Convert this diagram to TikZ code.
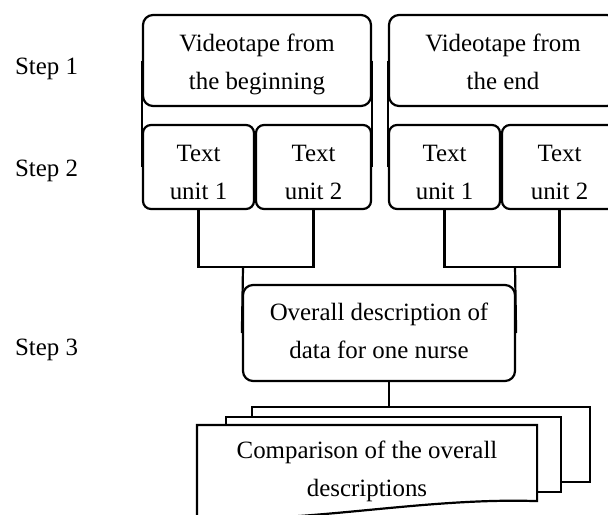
\documentclass[tikz,border=0pt]{standalone}
\usepackage{fontspec}
\setmainfont{Liberation Serif}
\begin{document}
\begin{tikzpicture}[x=0.5pt,y=-0.5pt, line width=1.1pt,
  rbox/.style={draw, rounded corners=5pt, inner sep=0pt, fill=white},
  doc/.style={draw, inner sep=0pt, fill=white, minimum width=169pt},
  txt/.style={align=center, inner sep=0pt, font=\fontsize{12.45}{19}\selectfont},
  steplbl/.style={anchor=base west, inner sep=0pt, font=\fontsize{12.45}{19}\selectfont}]
\useasboundingbox (0,0) rectangle (608,514);
\clip (0,0) rectangle (608,514);

% step labels
\node[steplbl] (s1) at (14,74) {Step 1};
\node[steplbl] (s2) at (14,176.7) {Step 2};
\node[steplbl] (s3) at (14,355) {Step 3};

% step 1 boxes
\node[rbox, minimum width=114pt, minimum height=45.5pt] (vL) at (257,60.5) {};
\node[txt] (vLt) at (257,62.4) {\strut Videotape from\\\strut the beginning};
\node[rbox, minimum width=114pt, minimum height=45.5pt] (vR) at (503,60.5) {};
\node[txt] (vRt) at (503,62.4) {\strut Videotape from\\\strut the end};

% step 2 boxes
\node[rbox, rounded corners=4pt, minimum width=55.5pt, minimum height=42pt] (tL1) at (198.5,167) {};
\node[rbox, rounded corners=4pt, minimum width=57.5pt, minimum height=42pt] (tL2) at (313.5,167) {};
\node[rbox, rounded corners=4pt, minimum width=55.5pt, minimum height=42pt] (tR1) at (444.5,167) {};
\node[rbox, rounded corners=4pt, minimum width=57.5pt, minimum height=42pt] (tR2) at (559.5,167) {};
\node[txt] (tL1t) at (198.5,172.4) {\strut Text\\\strut unit 1};
\node[txt] (tL2t) at (313.5,172.4) {\strut Text\\\strut unit 2};
\node[txt] (tR1t) at (444.5,172.4) {\strut Text\\\strut unit 1};
\node[txt] (tR2t) at (559.5,172.4) {\strut Text\\\strut unit 2};

\draw (vL.west) -- (tL1.west);
\draw (vL.east) -- (tL2.east);
\draw (vR.west) -- (tR1.west);
\draw (vR.east) -- (tR2.east);

% step 3 box
\node[rbox, minimum width=136pt, minimum height=48pt] (ov) at (379,333) {};
\node[txt] (ovt) at (379,331.4) {\strut Overall description of\\\strut data for one nurse};

\coordinate (jL) at (243,267);
\coordinate (jR) at (515,267);
\draw (tL1.south) |- (jL) -| (tL2.south);
\draw (jL) -- (ov.west);
\draw (tR1.south) |- (jR) -| (tR2.south);
\draw (jR) -- (ov.east);

% documents
\node[doc, minimum height=37.5pt] (back) at (421,444.5) {};
\node[doc, minimum width=167.5pt, minimum height=37.5pt] (mid) at (393.5,454.5) {};
\node[inner sep=0pt, minimum width=169pt, minimum height=37pt] (front) at (367,463) {};
\draw[fill=white] (front.south east) -- (front.north east) -- (front.north west)
  -- ([shift={(0,16)}]front.south west)
  .. controls ([shift={(102,24)}]front.south west) and ([shift={(-116,-4)}]front.south east) .. (front.south east) -- cycle;
\node[txt] (frontt) at (367,469.4) {\strut Comparison of the overall\\\strut descriptions};

\draw ([xshift=5pt]ov.south) -- ([xshift=5pt]ov.south |- back.north);
\end{tikzpicture}
\end{document}
